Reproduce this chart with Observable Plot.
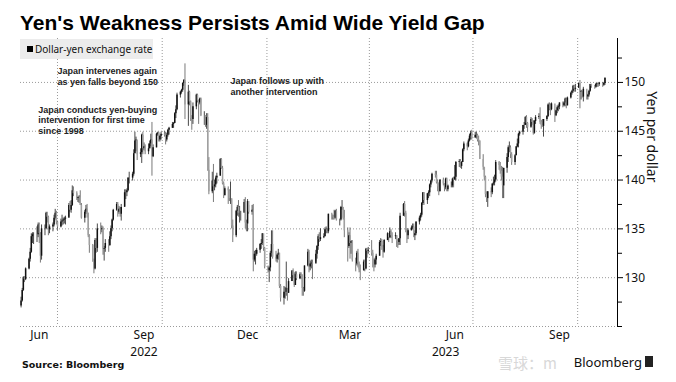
<!DOCTYPE html>
<html>
<head>
<meta charset="utf-8">
<script src="https://cdn.jsdelivr.net/npm/d3@7"></script>
<script src="https://cdn.jsdelivr.net/npm/@observablehq/plot@0.6"></script>
<style>
  html, body { margin: 0; padding: 0; background: #fff; }
  #chart svg { display: block; }
</style>
</head>
<body>
<div id="chart"></div>
<script>
// ---- Data: USD/JPY daily candles (weekdays from 2022-05-30 to 2023-10-25) ----
const firstDay = "2022-05-30";
const lastDay = "2023-10-25";
const startOpen = 127.1;

const closes = [
  // 2022
  127.6,128.7,130.0,129.8,130.9, 131.9,132.6,134.2,134.4,134.4, 134.4,135.4,134.5,132.2,135.0,
  135.0,136.6,136.2,134.9,135.2, 135.4,136.1,136.6,135.7,135.2, 135.7,135.8,135.9,136.0,136.1,
  137.4,136.9,137.4,138.9,138.6, 138.1,138.2,138.2,137.4,136.1, 136.7,137.0,136.6,134.3,133.3,
  131.6,130.9,133.8,133.0,135.0, 134.9,135.0,132.9,133.0,133.5, 133.3,134.2,135.0,135.9,136.9,
  137.5,136.7,137.0,136.5,137.2, 138.7,138.7,138.9,140.2,140.2, 140.6,142.7,144.0,144.1,142.6,
  142.8,144.6,143.2,143.4,142.9, 143.2,143.7,144.1,142.4,143.3, 144.7,144.8,144.1,144.5,144.7,
  144.6,144.1,144.6,145.1,145.3, 145.7,145.8,146.8,147.2,148.7, 149.0,149.2,149.9,150.2,147.7,
  149.0,148.0,146.3,146.2,147.5, 148.7,148.1,147.9,148.3,146.6, 146.6,145.6,146.4,141.0,138.8,
  139.9,139.3,139.5,140.2,140.4, 142.1,141.2,139.6,138.4,139.1, 138.9,138.1,138.1,135.3,134.3,
  136.8,137.2,136.6,136.6,136.6, 137.7,135.6,135.5,137.8,136.7, 136.9,131.8,132.4,132.4,132.8,
  133.4,133.5,134.5,133.0,131.1,
  // 2023
  130.7,131.0,132.5,133.4,132.1, 131.9,132.3,132.5,129.1,127.9, 128.5,128.5,128.9,128.4,129.6,
  130.7,130.2,129.2,130.3,129.9, 130.3,130.1,128.9,128.6,131.2, 132.6,131.1,131.4,131.5,131.4,
  132.4,133.2,134.2,133.9,134.1, 134.2,134.9,134.9,134.7,136.5, 136.2,136.2,136.1,136.8,135.9,
  135.9,137.2,137.2,136.1,134.8, 133.2,134.3,133.5,133.7,131.8, 131.4,132.5,131.4,130.8,130.7,
  131.6,130.9,132.9,132.7,132.8, 132.5,131.5,131.3,131.8,132.2, 133.6,133.7,133.1,132.6,133.8,
  134.5,134.1,134.7,134.3,134.2, 134.3,133.7,133.6,134.0,136.3, 137.5,136.6,134.7,134.3,134.8,
  135.1,135.2,134.3,134.5,135.7, 136.1,136.4,137.6,138.7,137.9, 138.6,138.7,139.5,139.9,140.6,
  140.5,139.7,139.3,138.8,140.0, 139.6,139.2,140.1,139.0,139.4, 139.4,140.1,140.0,140.3,141.8,
  141.9,141.4,141.8,143.1,143.7, 143.4,144.0,144.5,144.8,144.3, 144.6,144.6,144.1,144.0,142.1,
  141.3,140.3,138.5,138.1,138.8, 138.7,139.6,139.7,140.0,141.8, 141.5,140.9,140.3,139.4,141.2,
  142.3,143.3,143.3,142.6,141.8, 142.5,143.4,143.7,144.7,144.9, 145.6,145.6,146.4,145.8,145.4,
  146.2,145.9,144.8,146.0,146.4, 146.5,145.9,145.6,145.5,146.2, 146.5,147.7,147.7,147.2,147.8,
  146.6,147.1,147.4,147.5,147.9, 147.6,147.9,148.3,147.6,148.4, 148.9,149.1,149.6,149.3,149.4,
  149.9,149.0,149.1,148.5,149.3, 148.5,148.7,149.1,149.8,149.6, 149.5,149.8,149.9,149.8,149.9,
  149.7,149.9,150.4
];

const highs = [
  128.0,128.9,130.1,130.1,131.0, 132.0,133.0,134.5,134.6,134.6, 135.2,135.6,135.6,134.6,135.4,
  135.4,136.7,136.7,136.3,135.4, 135.6,136.4,137.0,136.8,135.8, 136.0,136.4,136.1,136.2,136.3,
  137.6,137.8,137.9,139.4,139.3, 138.8,138.3,138.4,138.9,137.6, 136.9,137.4,137.5,136.6,134.4,
  133.4,131.9,134.0,134.0,135.5, 135.6,135.3,135.2,133.2,133.9, 133.9,134.7,135.3,136.0,137.0,
  137.7,137.7,137.3,137.2,137.5, 139.0,139.0,139.1,140.2,140.8, 140.8,143.1,144.9,144.4,144.0,
  143.2,144.7,144.9,143.8,143.6, 143.7,144.0,144.7,145.9,143.6, 144.8,144.9,144.9,144.6,144.9,
  145.0,144.9,144.8,145.2,145.4, 145.9,145.9,146.9,147.6,148.9, 149.1,149.3,149.9,150.3,151.9,
  149.7,149.1,148.1,146.6,147.9, 148.8,148.8,148.2,148.4,148.4, 147.0,146.6,146.8,146.8,142.3,
  140.8,141.6,140.0,140.4,140.7, 142.2,142.2,141.4,139.8,139.3, 139.3,139.0,139.8,138.0,135.9,
  136.9,137.4,137.9,137.3,136.8, 138.0,138.2,135.9,138.0,137.4, 137.4,137.5,132.7,132.8,133.0,
  133.5,133.9,134.5,134.4,133.1,
  131.2,131.1,132.7,134.8,134.8, 132.7,132.4,132.9,132.5,129.3, 129.1,129.0,131.6,128.9,129.9,
  130.6,130.9,130.5,130.6,130.6, 130.5,130.5,130.3,129.0,131.2, 132.9,132.8,131.7,131.8,131.8,
  132.8,133.3,134.4,134.6,135.0, 134.5,135.1,135.2,135.0,136.5, 136.6,136.4,136.9,136.9,137.0,
  136.0,137.3,137.9,137.2,136.9, 135.1,134.6,135.1,133.8,133.8, 132.0,132.7,132.9,131.6,131.3,
  131.8,131.8,133.0,133.0,133.1, 133.8,132.8,131.9,132.0,132.4, 133.8,134.0,133.9,133.3,133.9,
  134.6,134.5,135.1,134.9,134.6, 134.6,134.3,133.9,134.0,136.6, 137.6,137.8,136.8,135.0,135.0,
  135.3,135.5,135.5,134.8,135.7, 136.3,136.6,137.7,138.7,138.7, 138.6,138.9,139.6,140.0,140.7,
  140.9,140.9,140.0,139.7,140.0, 140.2,139.6,140.2,140.2,139.5, 139.8,140.2,140.3,141.5,141.9,
  142.1,142.1,141.9,143.2,143.9, 143.8,144.2,144.7,145.0,145.1, 144.9,144.9,144.7,144.5,144.0,
  142.6,141.3,140.4,138.8,138.8, 139.2,139.6,140.3,140.5,142.0, 141.9,141.8,141.4,141.3,141.2,
  142.7,143.5,143.9,143.5,142.8, 142.6,143.4,144.2,144.8,145.0, 145.6,145.9,146.5,146.6,145.9,
  146.4,146.3,146.1,146.1,146.6, 146.8,147.4,146.1,146.2,146.2, 146.6,147.8,147.9,147.8,147.9,
  147.2,147.1,147.6,147.7,147.9, 148.0,148.0,148.4,148.4,148.5, 149.0,149.2,149.7,149.7,149.8,
  149.9,150.2,149.2,149.1,149.5, 149.0,148.8,149.2,149.8,149.8, 149.7,149.9,149.9,150.0,150.0,
  150.0,150.0,150.5
];

const lows = [
  126.9,127.5,128.6,129.5,129.7, 130.8,131.6,132.5,133.5,133.4, 133.6,134.1,133.5,131.5,131.8,
  134.3,134.9,135.6,134.3,134.5, 134.7,135.2,135.9,135.4,134.8, 135.1,135.3,135.4,135.5,135.4,
  136.2,136.7,136.6,137.3,138.3, 137.9,137.7,137.6,137.4,136.0, 135.6,136.5,136.1,134.1,132.5,
  131.6,130.4,130.8,132.5,132.6, 134.4,134.6,132.3,131.7,132.6, 132.6,133.2,133.9,134.7,135.8,
  136.8,136.2,136.5,136.2,135.8, 137.3,138.0,138.3,138.8,139.6, 139.9,140.4,142.7,142.9,142.0,
  142.3,141.7,142.6,143.0,142.6, 142.6,143.2,143.4,140.4,142.3, 143.3,144.5,143.9,143.9,144.1,
  144.4,143.6,143.9,144.4,144.6, 145.3,145.3,145.8,146.3,147.1, 148.4,148.8,149.0,149.6,146.2,
  145.5,147.6,146.0,145.1,145.7, 147.2,147.9,145.7,147.7,146.5, 145.6,145.4,145.2,140.9,138.5,
  138.6,137.7,138.9,139.2,139.6, 140.4,141.1,139.5,138.1,138.4, 137.5,137.8,137.5,135.0,133.6,
  134.1,136.3,136.2,135.6,135.8, 136.7,135.0,134.7,134.7,136.5, 136.4,130.6,131.6,131.3,132.2,
  132.5,132.9,133.3,132.7,130.9,
  130.5,129.5,130.6,132.1,131.9, 131.6,131.5,131.8,128.9,127.5, 127.2,127.8,128.1,127.6,128.4,
  129.6,130.0,129.0,129.2,129.7, 129.8,129.8,128.1,128.1,128.5, 131.1,130.5,130.7,130.9,129.8,
  131.6,131.9,132.8,133.6,133.7, 134.0,134.2,134.5,134.5,134.5, 135.9,135.9,135.9,136.0,135.8,
  135.3,135.8,136.9,135.9,134.1, 131.6,133.0,131.9,132.4,131.6, 130.6,131.2,131.0,130.5,129.7,
  130.7,130.6,130.8,132.0,132.4, 132.2,131.0,130.6,131.0,131.3, 132.2,133.2,132.8,132.0,132.5,
  133.8,133.6,134.0,134.0,133.5, 133.9,133.1,133.0,133.3,133.3, 136.3,136.2,134.6,133.5,133.9,
  134.8,134.9,134.1,133.8,134.3, 135.4,135.8,136.2,137.4,137.4, 137.5,138.1,138.3,139.2,139.7,
  140.2,139.6,138.8,138.4,138.8, 139.4,138.8,139.0,138.8,138.8, 139.2,139.2,139.2,140.0,139.9,
  141.3,141.2,141.1,141.8,142.9, 143.0,143.3,143.9,144.1,144.1, 144.3,144.2,143.9,143.5,142.1,
  141.0,139.9,138.2,137.7,137.2, 138.2,138.5,139.4,139.4,139.8, 141.0,140.6,139.9,138.1,138.1,
  140.7,141.8,142.8,142.2,141.5, 141.5,142.5,143.3,143.3,144.5, 144.6,145.2,145.6,145.3,144.9,
  145.3,145.6,144.6,144.7,145.7, 146.2,145.7,145.2,145.4,144.4, 146.0,146.4,147.1,146.6,147.1,
  145.9,146.5,146.8,147.0,147.2, 147.4,147.5,147.5,147.3,147.6, 148.3,148.7,148.9,149.0,149.0,
  149.4,147.3,148.2,148.4,148.0, 148.2,148.2,148.5,149.0,149.4, 149.3,149.4,149.5,149.5,149.6,
  149.5,149.6,149.7
];

// Axis ticks / labels
const yMajorTicks = [130, 135, 140, 145, 150];
const yMinorTicks = [125, 127.5, 132.5, 137.5, 142.5, 147.5, 152.5];
const yGridValues = [125, 130, 135, 140, 145, 150];
const quarterLines = ["2022-07-01", "2022-10-01", "2023-01-01", "2023-04-01", "2023-07-01", "2023-10-01"];
const monthLabelDates = ["2022-06-15", "2022-09-15", "2022-12-15", "2023-03-15", "2023-06-15", "2023-09-15"];
const yearLabels = [{date: "2022-09-15", label: "2022"}, {date: "2023-06-07", label: "2023"}];
const annotations = [
  {date: "2022-07-01", value: 151.6, text: "Japan intervenes again\nas yen falls beyond 150"},
  {date: "2022-06-14", value: 147.7, text: "Japan conducts yen-buying\nintervention for first time\nsince 1998"},
  {date: "2022-11-30", value: 150.6, text: "Japan follows up with\nanother intervention"}
];

// ---- Build table ----
const dates = d3.utcDays(new Date(firstDay), d3.utcDay.offset(new Date(lastDay), 1))
  .filter(d => d.getUTCDay() !== 0 && d.getUTCDay() !== 6);
const candles = dates.map((date, i) => ({
  date,
  open: i === 0 ? startOpen : closes[i - 1],
  close: closes[i],
  high: highs[i],
  low: lows[i]
}));
const up = d => d.close >= d.open;

const W = 676, H = 382;
const font = "'Noto Sans', 'DejaVu Sans', sans-serif";

const chart = Plot.plot({
  width: W,
  height: H,
  marginTop: 38,
  marginBottom: 56,
  marginLeft: 20,
  marginRight: 59,
  style: {fontFamily: font, fontSize: "11px", color: "#000", background: "#fff"},
  x: {type: "utc", domain: [new Date("2022-05-29T12:00Z"), new Date("2023-11-05")]},
  y: {domain: [125, 154.5]},
  marks: [
    Plot.gridY(yGridValues, {stroke: "#9a9a9a", strokeOpacity: 1, strokeDasharray: "1,2"}),
    Plot.gridX(quarterLines.map(d => new Date(d)), {stroke: "#9a9a9a", strokeOpacity: 1, strokeDasharray: "1,2"}),
    Plot.ruleX(candles, {x: "date", y1: "low", y2: "high", stroke: d => up(d) ? "#1a1a1a" : "#555", strokeWidth: 0.8}),
    Plot.ruleX(candles, {x: "date", y1: "open", y2: "close", stroke: d => up(d) ? "#111" : "#a0a0a0", strokeWidth: 1.5}),
    Plot.frame({anchor: "right", stroke: "#000"}),
    Plot.axisY(yMinorTicks, {anchor: "right", tickSize: 4, tickFormat: () => "", label: null, stroke: "#000"}),
    Plot.axisY(yMajorTicks, {anchor: "right", tickSize: 5, tickPadding: 2, label: null, fontSize: 12, stroke: "#000", fill: "#111"}),
    Plot.text(["Yen per dollar"], {frameAnchor: "right", dx: 34, rotate: 90, fontSize: 14, fill: "#111", text: d => d}),
    Plot.axisX(monthLabelDates.map(d => new Date(d)), {tickSize: 0, tickPadding: 4, tickFormat: d3.utcFormat("%b"), label: null, fontSize: 12, fill: "#111"}),
    Plot.text(yearLabels, {x: d => new Date(d.date), frameAnchor: "bottom", dy: 29, text: "label", fontSize: 12, fill: "#111"}),
    Plot.text(annotations, {x: d => new Date(d.date), y: "value", text: "text", textAnchor: "start", lineAnchor: "top",
      fontSize: 9, lineHeight: 1.2, fontFamily: "'Liberation Sans Narrow', 'Liberation Sans', sans-serif", fontWeight: "bold", fill: "#222"})
  ]
});

const svg = d3.select(chart);
// Title
svg.append("text").attr("x", 20).attr("y", 30).attr("text-anchor", "start")
  .attr("font-family", "'Liberation Sans', Arial, sans-serif").attr("font-weight", "900")
  .attr("font-size", 21).attr("fill", "#000").text("Yen's Weakness Persists Amid Wide Yield Gap");
// Legend
const lg = svg.append("g").attr("text-anchor", "start");
lg.append("rect").attr("x", 20).attr("y", 39).attr("width", 133).attr("height", 20).attr("fill", "#ececec");
lg.append("rect").attr("x", 27).attr("y", 46).attr("width", 6).attr("height", 6).attr("fill", "#000");
lg.append("text").attr("x", 35).attr("y", 53).attr("font-family", font).attr("font-size", 10)
  .attr("fill", "#111").text("Dollar-yen exchange rate");
// Footer
svg.append("text").attr("x", 22).attr("y", 368).attr("text-anchor", "start").attr("font-family", "'DejaVu Sans', sans-serif")
  .attr("font-weight", "bold").attr("font-size", 9.5).attr("fill", "#111").text("Source: Bloomberg");
svg.append("text").attr("x", 498).attr("y", 369).attr("text-anchor", "start").attr("font-family", "'Noto Sans CJK SC', sans-serif")
  .attr("font-size", 15).attr("fill", "#d8d8d8").text("雪球：m");
svg.append("text").attr("x", 642).attr("y", 367).attr("text-anchor", "end").attr("font-family", font)
  .attr("font-size", 13).attr("fill", "#111").text("Bloomberg");
svg.append("rect").attr("x", 645).attr("y", 356).attr("width", 8).attr("height", 11).attr("fill", "#222");

document.getElementById("chart").appendChild(chart);
</script>
</body>
</html>
